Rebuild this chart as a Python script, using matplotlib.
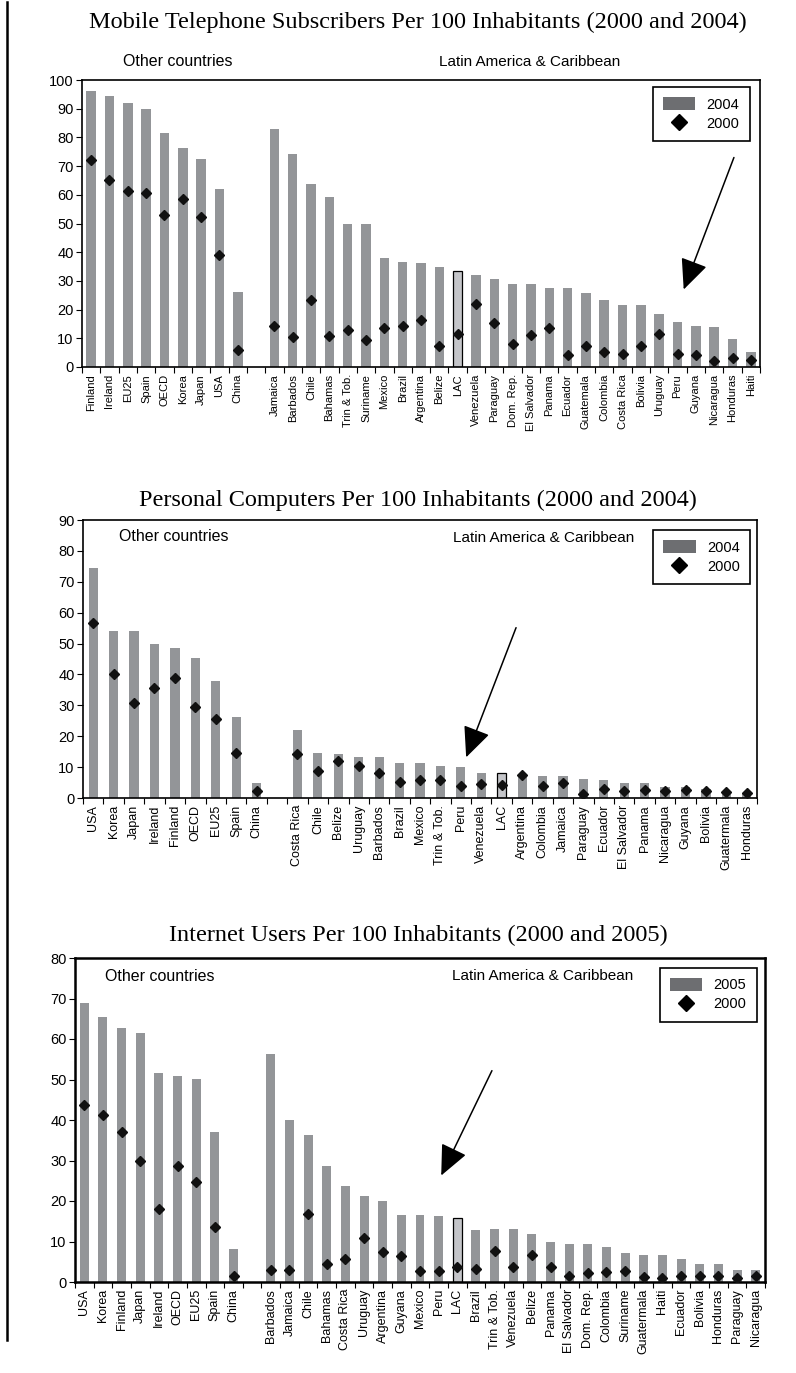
import numpy as np
import matplotlib
matplotlib.use("Agg")
import matplotlib.pyplot as plt
from matplotlib.patches import Patch
from matplotlib.lines import Line2D

plt.rcParams['font.family'] = ['Liberation Sans', 'DejaVu Sans']

W, H = 796, 1373

## mobile telephone subscribers (2004 bars, 2000 diamonds)
mob_names = ['Finland', 'Ireland', 'EU25', 'Spain', 'OECD', 'Korea', 'Japan', 'USA', 'China',
             'Jamaica', 'Barbados', 'Chile', 'Bahamas', 'Trin & Tob.', 'Suriname', 'Mexico',
             'Brazil', 'Argentina', 'Belize', 'LAC', 'Venezuela', 'Paraguay', 'Dom. Rep.',
             'El Salvador', 'Panama', 'Ecuador', 'Guatemala', 'Colombia', 'Costa Rica',
             'Bolivia', 'Uruguay', 'Peru', 'Guyana', 'Nicaragua', 'Honduras', 'Haiti']
mob_2004 = [96.2, 94.5, 92.1, 90.0, 81.5, 76.4, 72.3, 61.9, 26.0,
            83.0, 74.1, 63.6, 59.4, 50.0, 49.8, 38.1,
            36.6, 36.4, 35.0, 33.4, 32.2, 30.6, 29.0,
            29.0, 27.7, 27.7, 25.9, 23.5, 21.7,
            21.5, 18.6, 15.6, 14.2, 14.1, 9.7, 5.3]
mob_2000 = [72.1, 65.2, 61.4, 60.5, 53.1, 58.4, 52.2, 39.0, 5.8,
            14.2, 10.5, 23.5, 10.9, 12.8, 9.3, 13.7,
            14.2, 16.3, 7.2, 11.6, 22.1, 15.2, 8.1,
            11.2, 13.7, 4.1, 7.3, 5.2, 4.4,
            7.2, 11.6, 4.5, 4.2, 2.1, 3.1, 2.3]

## personal computers (2004 bars, 2000 diamonds)
pc_names = ['USA', 'Korea', 'Japan', 'Ireland', 'Finland', 'OECD', 'EU25', 'Spain', 'China',
            'Costa Rica', 'Chile', 'Belize', 'Uruguay', 'Barbados', 'Brazil', 'Mexico',
            'Trin & Tob.', 'Peru', 'Venezuela', 'LAC', 'Argentina', 'Colombia', 'Jamaica',
            'Paraguay', 'Ecuador', 'El Salvador', 'Panama', 'Nicaragua', 'Guyana', 'Bolivia',
            'Guatermala', 'Honduras']
pc_2004 = [74.3, 54.0, 54.2, 49.8, 48.6, 45.3, 37.8, 26.3, 4.8,
           22.1, 14.6, 14.2, 13.4, 13.4, 11.2, 11.2,
           10.3, 10.0, 8.1, 8.1, 7.5, 7.0, 7.0,
           6.0, 5.9, 5.0, 4.8, 3.7, 3.7, 3.0,
           1.8, 1.7]
pc_2000 = [56.7, 40.2, 30.9, 35.5, 38.8, 29.6, 25.5, 14.5, 2.3,
           14.4, 8.8, 12.0, 10.2, 8.1, 5.1, 5.7,
           5.9, 4.0, 4.4, 4.2, 7.5, 4.0, 4.9,
           1.4, 2.8, 2.3, 2.7, 2.3, 2.5, 2.3,
           1.8, 1.6]

## internet users (2005 bars, 2000 diamonds)
net_names = ['USA', 'Korea', 'Finland', 'Japan', 'Ireland', 'OECD', 'EU25', 'Spain', 'China',
             'Barbados', 'Jamaica', 'Chile', 'Bahamas', 'Costa Rica', 'Uruguay', 'Argentina',
             'Guyana', 'Mexico', 'Peru', 'LAC', 'Brazil', 'Trin & Tob.', 'Venezuela', 'Belize',
             'Panama', 'El Salvador', 'Dom. Rep.', 'Colombia', 'Suriname', 'Guatermala',
             'Haiti', 'Ecuador', 'Bolivia', 'Honduras', 'Paraguay', 'Nicaragua']
net_2005 = [69.0, 65.5, 62.7, 61.5, 51.5, 50.8, 50.2, 37.1, 8.1,
            56.4, 40.1, 36.3, 28.6, 23.6, 21.3, 20.1,
            16.5, 16.5, 16.3, 15.8, 12.9, 13.1, 13.1, 11.8,
            10.0, 9.4, 9.4, 8.6, 7.2, 6.6,
            6.6, 5.7, 4.4, 4.4, 3.0, 3.0]
net_2000 = [43.7, 41.2, 37.0, 30.0, 18.1, 28.6, 24.8, 13.7, 1.6,
            3.0, 3.0, 16.7, 4.4, 5.8, 10.8, 7.3,
            6.3, 2.8, 2.8, 3.8, 3.2, 7.7, 3.6, 6.6,
            3.6, 1.6, 2.2, 2.4, 2.6, 1.3,
            1.1, 1.6, 1.6, 1.4, 1.1, 1.5]

BAR = '#939598'
LAC_BAR = '#c4c5c9'
LEG_BAR = '#6d6e71'

fig = plt.figure(figsize=(W / 100, H / 100), dpi=100)


def px(x, y):
    return x / W, 1 - y / H


def panel(box, names, new, old, ymax, fs, bw, lw, ms):
    l, t, r, b = box
    ax = fig.add_axes([l / W, 1 - b / H, (r - l) / W, (b - t) / H])
    n = len(names)
    idx = np.arange(n)
    x = idx + (idx >= 9)  # one empty slot between the two groups
    colors = [LAC_BAR if nm == 'LAC' else BAR for nm in names]
    edges = ['black' if nm == 'LAC' else 'none' for nm in names]
    ax.bar(x, new, width=bw, color=colors, edgecolor=edges, linewidth=0.9, zorder=2)
    ax.plot(x, old, 'D', color='#111111', ms=ms, ls='none', zorder=3)
    ax.set_xlim(-0.5, n + 0.5)
    ax.set_ylim(0, ymax)
    ax.set_yticks(np.arange(0, ymax + 1, 10))
    ax.set_xticks(x)
    ax.set_xticklabels(names, rotation=90, fontsize=fs)
    ax.set_xticks(np.arange(-0.5, n + 1, 1), minor=True)
    ax.tick_params(axis='x', which='major', length=0, pad=5)
    ax.tick_params(axis='x', which='minor', length=4, direction='out', width=0.8)
    ax.tick_params(axis='y', length=4, direction='out', width=0.8, labelsize=10.5, pad=2)
    for s in ax.spines.values():
        s.set_linewidth(lw)
    handles = [Patch(facecolor=LEG_BAR, edgecolor='none'),
               Line2D([], [], marker='D', color='black', ls='none', ms=8)]
    return ax, handles


def legend(ax, handles, newyear, anchor):
    lg = ax.legend(handles, [newyear, '2000'], loc='upper right', bbox_to_anchor=anchor,
                   fancybox=False, framealpha=1, edgecolor='black', fontsize=10.5,
                   handlelength=2.2, handleheight=1.0, borderpad=0.7, labelspacing=0.3,
                   handletextpad=0.8, borderaxespad=0)
    lg.get_frame().set_linewidth(1.2)


def arrow(ax, start, tip):
    ax.annotate('', xy=tip, xytext=start, xycoords='axes fraction',
                arrowprops=dict(arrowstyle='-|>,head_length=1.0,head_width=0.45',
                                color='black', lw=1.1, mutation_scale=19))


serif = ['Liberation Serif', 'DejaVu Serif']

## chart 1
fig.text(*px(418, 22), 'Mobile Telephone Subscribers Per 100 Inhabitants (2000 and 2004)',
         family=serif, fontsize=17.5, ha='center', va='center')
ax1, h1 = panel((82, 80, 760, 367), mob_names, mob_2004, mob_2000, 100, 8, 0.52, 1.2, 5.4)
fig.text(*px(178, 62), 'Other countries', fontsize=11.5, ha='center', va='center')
fig.text(*px(530, 62), 'Latin America & Caribbean', fontsize=11, ha='center', va='center')
legend(ax1, h1, '2004', (0.985, 0.976))
arrow(ax1, (0.963, 0.739), (0.886, 0.261))

## chart 2
fig.text(*px(418, 500), 'Personal Computers Per 100 Inhabitants (2000 and 2004)',
         family=serif, fontsize=17.5, ha='center', va='center')
ax2, h2 = panel((83, 520, 757, 798), pc_names, pc_2004, pc_2000, 90, 9, 0.45, 1.2, 5.4)
ax2.text(0.135, 0.939, 'Other countries', transform=ax2.transAxes, fontsize=11.5,
         ha='center', va='center')
ax2.text(0.683, 0.935, 'Latin America & Caribbean', transform=ax2.transAxes, fontsize=11,
         ha='center', va='center')
legend(ax2, h2, '2004', (0.99, 0.964))
arrow(ax2, (0.644, 0.622), (0.567, 0.137))

## chart 3
fig.text(*px(418, 935), 'Internet Users Per 100 Inhabitants (2000 and 2005)',
         family=serif, fontsize=17.5, ha='center', va='center')
ax3, h3 = panel((75, 958, 765, 1282), net_names, net_2005, net_2000, 80, 9, 0.48, 1.8, 5.4)
ax3.text(0.123, 0.944, 'Other countries', transform=ax3.transAxes, fontsize=11.5,
         ha='center', va='center')
ax3.text(0.678, 0.944, 'Latin America & Caribbean', transform=ax3.transAxes, fontsize=11,
         ha='center', va='center')
legend(ax3, h3, '2005', (0.988, 0.97))
arrow(ax3, (0.606, 0.66), (0.529, 0.321))

## page margin line on the left
fig.add_artist(Line2D([7 / W, 7 / W], [1 - 2 / H, 1 - 1340 / H], color='black', lw=1.8))

fig.savefig('out.png', dpi=100)
